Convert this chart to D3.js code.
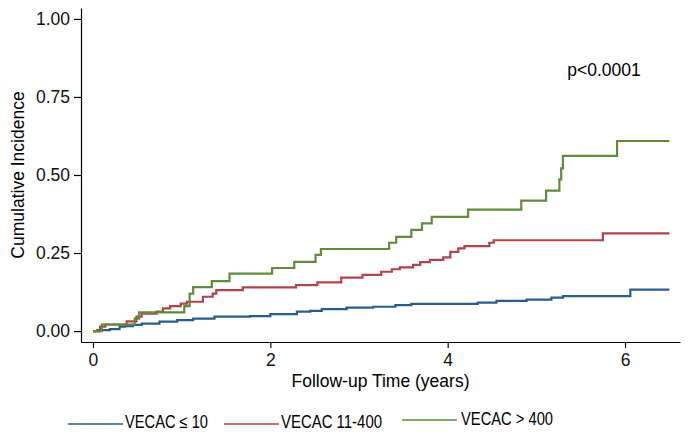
<!DOCTYPE html>
<html>
<head>
<meta charset="utf-8">
<script src="https://cdn.jsdelivr.net/npm/d3@7"></script>
<style>
  body { margin: 0; background: #fff; }
  svg { display: block; font-family: "Liberation Sans", Arial, Helvetica, sans-serif; }
  .axis path, .axis line { stroke: #000; stroke-width: 1.2; }
  .axis text { font-size: 17.5px; fill: #111; }
  .km { fill: none; stroke-width: 2.2; }
</style>
</head>
<body>
<svg id="chart" width="688" height="446"></svg>
<script>
// step points (time in years, cumulative incidence)
var timeLow  = [0, 0.05, 0.19, 0.30, 0.36, 0.45, 0.55, 0.75, 0.95, 1.13, 1.37, 1.77, 2.0, 2.3, 2.45, 2.58, 2.86, 3.16, 3.41, 3.59, 4.34, 4.55, 4.89, 5.17, 5.30, 6.06, 6.5];
var cumLow   = [0, 0.003, 0.006, 0.014, 0.016, 0.020, 0.024, 0.030, 0.035, 0.040, 0.046, 0.048, 0.054, 0.062, 0.065, 0.070, 0.075, 0.078, 0.083, 0.087, 0.091, 0.097, 0.101, 0.107, 0.112, 0.133, 0.133];

var timeMid  = [0, 0.08, 0.14, 0.38, 0.49, 0.55, 0.72, 0.79, 0.87, 0.99, 1.06, 1.24, 1.35, 1.39, 1.69, 2.29, 2.53, 2.80, 3.04, 3.25, 3.37, 3.46, 3.61, 3.69, 3.80, 3.95, 4.03, 4.12, 4.19, 4.47, 4.52, 5.75, 6.5];
var cumMid   = [0, 0.014, 0.021, 0.031, 0.046, 0.056, 0.062, 0.073, 0.080, 0.088, 0.094, 0.110, 0.120, 0.131, 0.140, 0.147, 0.156, 0.171, 0.180, 0.190, 0.198, 0.204, 0.212, 0.221, 0.228, 0.236, 0.254, 0.265, 0.272, 0.283, 0.291, 0.313, 0.313];

var timeHigh = [0, 0.10, 0.47, 0.52, 1.03, 1.09, 1.13, 1.34, 1.54, 2.02, 2.27, 2.51, 2.57, 3.34, 3.42, 3.59, 3.71, 3.82, 4.23, 4.83, 5.11, 5.26, 5.28, 5.30, 5.91, 6.5];
var cumHigh  = [0, 0.021, 0.040, 0.060, 0.080, 0.120, 0.141, 0.160, 0.184, 0.202, 0.222, 0.244, 0.263, 0.283, 0.302, 0.324, 0.345, 0.366, 0.389, 0.418, 0.450, 0.486, 0.521, 0.561, 0.609, 0.609];

var groupNames  = ["VECAC \u2264 10", "VECAC 11-400", "VECAC > 400"];
var groupColors = ["#2b5d8c", "#b0444b", "#5f8b3b"];
var xTicks = [0, 2, 4, 6];
var yTicks = [0, 0.25, 0.5, 0.75, 1];

var series = [
  {name: groupNames[0], color: groupColors[0], pts: timeLow.map(function(t, i) { return {t: t, v: cumLow[i]}; })},
  {name: groupNames[1], color: groupColors[1], pts: timeMid.map(function(t, i) { return {t: t, v: cumMid[i]}; })},
  {name: groupNames[2], color: groupColors[2], pts: timeHigh.map(function(t, i) { return {t: t, v: cumHigh[i]}; })}
];

var svg = d3.select("#chart");

var xScale = d3.scaleLinear().domain([-0.135, 6.62]).range([81, 680]);
var yScale = d3.scaleLinear().domain([-0.035, 1.035]).range([342, 8]);

svg.append("g")
  .attr("class", "axis")
  .attr("transform", "translate(0,342)")
  .call(d3.axisBottom(xScale).tickValues(xTicks).tickFormat(d3.format("d")).tickSize(6).tickSizeOuter(0).tickPadding(6));

svg.append("g")
  .attr("class", "axis")
  .attr("transform", "translate(81,0)")
  .call(d3.axisLeft(yScale).tickValues(yTicks).tickFormat(d3.format(".2f")).tickSize(7).tickSizeOuter(0).tickPadding(4));

// axis titles
svg.append("text")
  .attr("x", 380.5).attr("y", 387)
  .attr("text-anchor", "middle")
  .style("font-size", "17.5px")
  .text("Follow-up Time (years)");

svg.append("text")
  .attr("transform", "translate(24,175) rotate(-90)")
  .attr("text-anchor", "middle")
  .style("font-size", "17.5px")
  .text("Cumulative Incidence");

svg.append("text")
  .attr("x", 604).attr("y", 76)
  .attr("text-anchor", "middle")
  .style("font-size", "17.5px")
  .text("p<0.0001");

var stepLine = d3.line()
  .curve(d3.curveStepAfter)
  .x(function(d) { return xScale(d.t); })
  .y(function(d) { return yScale(d.v); });

svg.selectAll(".km")
  .data(series)
  .enter().append("path")
  .attr("class", "km")
  .attr("stroke", function(d) { return d.color; })
  .attr("d", function(d) { return stepLine(d.pts); });

// legend below the plot
var legendSpec = [
  {x1: 68, x2: 123, y: 424, tx: 125, ty: 428, w: 83},
  {x1: 224, x2: 279, y: 424, tx: 281, ty: 428, w: 101},
  {x1: 402, x2: 457, y: 420, tx: 461, ty: 425, w: 92}
];

var legend = svg.append("g");
series.forEach(function(s, i) {
  var L = legendSpec[i];
  legend.append("line")
    .attr("x1", L.x1).attr("x2", L.x2)
    .attr("y1", L.y).attr("y2", L.y)
    .attr("stroke", s.color).attr("stroke-width", 1.6);
  legend.append("text")
    .attr("x", L.tx).attr("y", L.ty)
    .attr("textLength", L.w)
    .attr("lengthAdjust", "spacingAndGlyphs")
    .style("font-family", "'Liberation Sans Narrow', 'Liberation Sans', Arial, sans-serif")
    .style("font-size", "18px")
    .text(s.name);
});
</script>
</body>
</html>
